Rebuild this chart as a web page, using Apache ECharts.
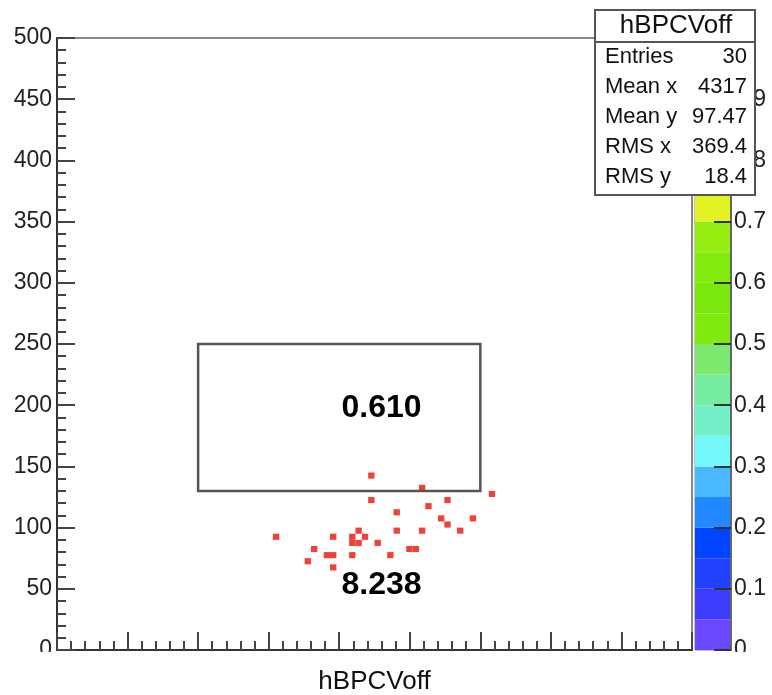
<!DOCTYPE html>
<html><head><meta charset="utf-8">
<script src="https://cdn.jsdelivr.net/npm/echarts@6/dist/echarts.min.js"></script>
<style>html,body{margin:0;padding:0;background:#fff}#c{width:772px;height:695px}</style>
</head><body><div id="c"></div>
<script>
// ---- data ----
const histName = 'hBPCVoff';
// filled 2D bins (bin centres), one entry each
const binX = [4227.5, 4587.5, 5082.5, 4227.5, 4767.5, 4632.5, 4407.5, 4722.5, 4947.5, 4767.5,
              4137.5, 4407.5, 4587.5, 4857.5, 3552.5, 3957.5, 4092.5, 4182.5, 4092.5, 4137.5,
              4272.5, 3822.5, 4497.5, 4542.5, 3912.5, 3957.5, 4092.5, 4362.5, 3777.5, 3957.5];
const binY = [142.5, 132.5, 127.5, 122.5, 122.5, 117.5, 112.5, 107.5, 107.5, 102.5,
              97.5, 97.5, 97.5, 97.5, 92.5, 92.5, 92.5, 92.5, 87.5, 87.5,
              87.5, 82.5, 82.5, 82.5, 77.5, 77.5, 77.5, 77.5, 72.5, 67.5];
const binW = 45, binH = 5;
const binColor = '#ef4136';
// annotation box and texts (data coordinates)
const boxX = [3000, 5000];
const boxY = [130, 250];
const noteText = ['0.610', '8.238'];
const noteX = [4300, 4300];
const noteY = [197.5, 53];
// palette (z axis)
const paletteEdges = [0,0.05,0.1,0.15,0.2,0.25,0.3,0.35,0.4,0.45,0.5,0.55,0.6,0.65,0.7,0.75,0.8,0.85,0.9,0.95,1];
const paletteColors = ['#6a48ff','#3e3cff','#2240ff','#0044ff','#2288ff','#4ab8ff','#74f8fa','#74f0c8','#76eca2','#7de86e',
                       '#7eea10','#7ae80c','#82ea0c','#96ee12','#e2f222','#f2d020','#f2a022','#f07228','#ee5030','#ef4136'];
// stats box
const statNames = ['Entries', 'Mean x', 'Mean y', 'RMS x', 'RMS y'];
const statValues = ['30', '4317', '97.47', '369.4', '18.4'];

// ---- chart ----
const FONT = '"Liberation Sans", Arial, Helvetica, sans-serif';
const chart = echarts.init(document.getElementById('c'), null, {renderer: 'canvas'});

const statGraphics = [
  {type:'rect', shape:{x:595, y:10, width:160, height:185}, style:{fill:'#fff', stroke:'#555', lineWidth:2}, z:100},
  {type:'line', shape:{x1:595, y1:42, x2:755, y2:42}, style:{stroke:'#555', lineWidth:2}, z:101},
  {type:'text', x:676, y:26, style:{text:histName, font:'26px ' + FONT, fill:'#111', textAlign:'center', textVerticalAlign:'middle'}, z:101}
];
statNames.forEach((n, i) => {
  statGraphics.push({type:'text', x:605, y:57 + i*30, style:{text:n, font:'22px ' + FONT, fill:'#111', textAlign:'left', textVerticalAlign:'middle'}, z:101});
  statGraphics.push({type:'text', x:747, y:57 + i*30, style:{text:statValues[i], font:'22px ' + FONT, fill:'#111', textAlign:'right', textVerticalAlign:'middle'}, z:101});
});
// bottom clip of the lowest tick labels
statGraphics.push({type:'rect', shape:{x:0, y:652, width:55, height:12}, style:{fill:'#fff'}, z:100});
statGraphics.push({type:'rect', shape:{x:733, y:652, width:39, height:12}, style:{fill:'#fff'}, z:100});

const tickStyle = {color:'#444', width:2};

chart.setOption({
  animation: false,
  backgroundColor: '#fff',
  grid: [
    {left:57, top:38, right:80, bottom:45, show:true, borderColor:'#888', borderWidth:2, backgroundColor:'transparent',
     containLabel:false, outerBoundsMode:'none'},
    {left:695, top:38, width:36, bottom:45, show:true, borderColor:'#888', borderWidth:1, backgroundColor:'transparent',
     containLabel:false, outerBoundsMode:'none'}
  ],
  xAxis: [
    {type:'value', gridIndex:0, min:2000, max:6500, interval:500,
     name: histName, nameLocation:'middle', nameGap:19,
     nameTextStyle:{fontSize:26, color:'#111', fontFamily:FONT},
     axisLine:{show:true, onZero:false, lineStyle:{color:'#333', width:2}},
     axisTick:{show:true, inside:true, length:18, lineStyle:tickStyle},
     minorTick:{show:true, splitNumber:5, length:9, lineStyle:tickStyle},
     axisLabel:{show:false}, splitLine:{show:false}, minorSplitLine:{show:false}},
    {type:'value', gridIndex:1, min:0, max:1, show:false}
  ],
  yAxis: [
    {type:'value', gridIndex:0, min:0, max:500, interval:50,
     axisLine:{show:true, onZero:false, lineStyle:{color:'#333', width:2}},
     axisTick:{show:true, inside:true, length:18, lineStyle:tickStyle},
     minorTick:{show:true, splitNumber:5, length:9, lineStyle:tickStyle},
     axisLabel:{fontSize:23, color:'#222', margin:5, fontFamily:FONT},
     splitLine:{show:false}, minorSplitLine:{show:false}},
    {type:'value', gridIndex:1, min:0, max:1, interval:0.1, position:'right', z:10,
     axisLine:{show:true, onZero:false, lineStyle:{color:'#666', width:2}},
     axisTick:{show:true, inside:true, length:17, lineStyle:{color:'#333', width:2}},
     axisLabel:{fontSize:23, color:'#222', margin:3, fontFamily:FONT,
                formatter: v => (Math.round(v*10)/10).toString()},
     splitLine:{show:false}}
  ],
  series: [
    {type:'custom', xAxisIndex:0, yAxisIndex:0, z:2,
     data: binX.map((x, i) => [x, binY[i]]),
     renderItem(params, api) {
       const p = api.coord([api.value(0), api.value(1)]);
       const s = api.size([binW, binH]);
       return {type:'rect', shape:{x:p[0]-s[0]/2, y:p[1]-s[1]/2, width:s[0], height:s[1]}, style:{fill:binColor}};
     }},
    {type:'custom', xAxisIndex:0, yAxisIndex:0, z:3,
     data: [[boxX[0], boxY[0], boxX[1], boxY[1]]],
     renderItem(params, api) {
       const a = api.coord([api.value(0), api.value(3)]);
       const b = api.coord([api.value(2), api.value(1)]);
       return {type:'rect', shape:{x:a[0], y:a[1], width:b[0]-a[0], height:b[1]-a[1]},
               style:{fill:'none', stroke:'#555', lineWidth:2.5}};
     }},
    {type:'custom', xAxisIndex:0, yAxisIndex:0, z:4,
     data: noteText.map((t, i) => [noteX[i], noteY[i], i]),
     renderItem(params, api) {
       const p = api.coord([api.value(0), api.value(1)]);
       return {type:'text', x:p[0], y:p[1],
               style:{text:noteText[api.value(2)], font:'bold 32px ' + FONT, fill:'#000', textAlign:'center', textVerticalAlign:'middle'}};
     }},
    {type:'custom', xAxisIndex:1, yAxisIndex:1, z:1,
     data: paletteColors.map((c, i) => [paletteEdges[i], paletteEdges[i+1], i]),
     renderItem(params, api) {
       const a = api.coord([0, api.value(1)]);
       const b = api.coord([1, api.value(0)]);
       return {type:'rect', shape:{x:a[0], y:a[1], width:b[0]-a[0], height:b[1]-a[1]},
               style:{fill:paletteColors[api.value(2)]}};
     }}
  ],
  graphic: statGraphics
});
</script></body></html>
